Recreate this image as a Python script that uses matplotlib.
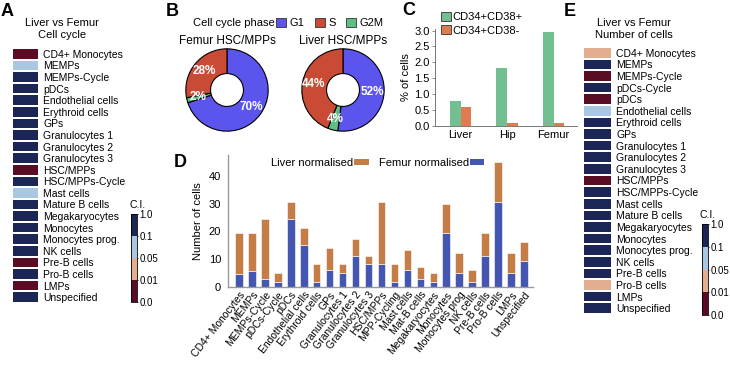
import numpy as np
import matplotlib
matplotlib.use('Agg')
import matplotlib.pyplot as plt
from matplotlib.colors import ListedColormap, BoundaryNorm
from matplotlib.cm import ScalarMappable
from matplotlib.patches import Patch

plt.rcParams['font.family'] = ['Liberation Sans', 'DejaVu Sans']

W, H = 730, 370

# --- panel A: cell cycle C.I. per cell type
cc_types = ['CD4+ Monocytes', 'MEMPs', 'MEMPs-Cycle', 'pDCs', 'Endothelial cells',
            'Erythroid cells', 'GPs', 'Granulocytes 1', 'Granulocytes 2', 'Granulocytes 3',
            'HSC/MPPs', 'HSC/MPPs-Cycle', 'Mast cells', 'Mature B cells', 'Megakaryocytes',
            'Monocytes', 'Monocytes prog.', 'NK cells', 'Pre-B cells', 'Pro-B cells',
            'LMPs', 'Unspecified']
cc_ci = [0.005, 0.07, 0.5, 0.5, 0.5, 0.5, 0.5, 0.5, 0.5, 0.5,
         0.005, 0.5, 0.07, 0.5, 0.5, 0.5, 0.5, 0.5, 0.005, 0.5,
         0.005, 0.5]

# --- panel B: cell cycle phase fractions (%)
phases = ['G1', 'S', 'G2M']
femur_phase = [70, 28, 2]
liver_phase = [52, 44, 4]

# --- panel C: % of cells
sites = ['Liver', 'Hip', 'Femur']
cd38_pos = [0.80, 1.83, 2.95]
cd38_neg = [0.60, 0.10, 0.10]

# --- panel D: number of cells
d_types = ['CD4+ Monocytes', 'MEMPs', 'MEMPs-Cycle', 'pDCs-Cycle', 'pDCs',
           'Endothelial cells', 'Erythroid cells', 'GPs', 'Granulocytes 1',
           'Granulocytes 2', 'Granulocytes 3', 'HSC/MPPs', 'MPP-Cycling', 'Mast cells',
           'Mat-B cells', 'Megakaryocytes', 'Monocytes', 'Monocytes prog', 'NK cells',
           'Pre-B cells', 'Pro-B cells', 'LMPs', 'Unspecified']
femur_norm = [4.8, 5.7, 3.0, 1.8, 24.5, 15.2, 1.8, 6.0, 5.0, 11.3, 8.2, 8.2, 1.8,
              6.0, 3.0, 1.8, 19.6, 5.0, 1.8, 11.3, 30.6, 5.0, 9.2]
total_cells = [19.5, 19.5, 24.4, 4.9, 30.6, 21.4, 8.1, 14.2, 8.1, 17.3, 11.2, 30.6, 8.1,
               13.2, 7.2, 4.9, 29.7, 12.2, 6.2, 19.5, 45.0, 12.1, 16.2]
liver_norm = [t - f for t, f in zip(total_cells, femur_norm)]

# --- panel E: number of cells C.I.
nc_types = ['CD4+ Monocytes', 'MEMPs', 'MEMPs-Cycle', 'pDCs-Cycle', 'pDCs',
            'Endothelial cells', 'Erythroid cells', 'GPs', 'Granulocytes 1',
            'Granulocytes 2', 'Granulocytes 3', 'HSC/MPPs', 'HSC/MPPs-Cycle', 'Mast cells',
            'Mature B cells', 'Megakaryocytes', 'Monocytes', 'Monocytes prog.', 'NK cells',
            'Pre-B cells', 'Pro-B cells', 'LMPs', 'Unspecified']
nc_ci = [0.03, 0.5, 0.005, 0.5, 0.005, 0.07, 0.5, 0.5, 0.5, 0.5, 0.5, 0.005, 0.5,
         0.5, 0.5, 0.5, 0.5, 0.5, 0.5, 0.5, 0.03, 0.5, 0.5]

ci_bounds = [0.0, 0.01, 0.05, 0.1, 1.0]
ci_cmap = ListedColormap(['#5a0d22', '#e3ad90', '#a9c6e3', '#1b2657'])
ci_norm = BoundaryNorm(ci_bounds, ci_cmap.N)

fig = plt.figure(figsize=(7.3, 3.7), dpi=100)


def px_axes(x0, y0, x1, y1):
    return fig.add_axes([x0 / W, 1 - y1 / H, (x1 - x0) / W, (y1 - y0) / H])


def ftext(x, y, s, **kw):
    fig.text(x / W, 1 - y / H, s, **kw)


def heatmap(ax, labels, vals):
    data = np.array(vals).reshape(-1, 1)
    ax.pcolormesh(data, cmap=ci_cmap, norm=ci_norm, edgecolors='white', linewidth=1.2)
    ax.set_ylim(len(vals), 0)
    ax.set_xlim(0, 1)
    ax.set_yticks(np.arange(len(vals)) + 0.5)
    ax.set_yticklabels(labels, fontsize=7.5)
    ax.yaxis.tick_right()
    ax.tick_params(length=0, pad=3)
    ax.set_xticks([])
    for s in ax.spines.values():
        s.set_visible(False)


def ci_bar(cax, x, y):
    cb = fig.colorbar(ScalarMappable(norm=ci_norm, cmap=ci_cmap), cax=cax,
                      spacing='uniform', ticks=ci_bounds)
    cb.ax.set_yticklabels(['0.0', '0.01', '0.05', '0.1', '1.0'], fontsize=7)
    cb.ax.tick_params(length=1, width=0.6, pad=0.8)
    cb.outline.set_linewidth(0.6)
    ftext(x, y, 'C.I.', fontsize=7.5, ha='left', va='center')


# panel letters
for lab, x, y in [('A', 1, 3), ('B', 166, 3), ('C', 402, 2), ('D', 174, 154), ('E', 564, 3)]:
    ftext(x, y, lab, fontsize=13, fontweight='bold', va='top', ha='left')

# A
axA = px_axes(12, 48, 39, 303)
heatmap(axA, cc_types, cc_ci)
ftext(62, 23, 'Liver vs Femur', fontsize=8, ha='center', va='center')
ftext(62, 35, 'Cell cycle', fontsize=8, ha='center', va='center')
ci_bar(px_axes(131, 214, 137, 302), 130, 205)

# E
axE = px_axes(583, 47, 612, 314)
heatmap(axE, nc_types, nc_ci)
ftext(634, 23, 'Liver vs Femur', fontsize=8, ha='center', va='center')
ftext(634, 35, 'Number of cells', fontsize=8, ha='center', va='center')
ci_bar(px_axes(702, 224, 708, 315), 700, 215)

# B
phase_cols = {'G1': '#5b55ee', 'S': '#c94a35', 'G2M': '#5cc085'}
pie_order = [0, 2, 1]  # clockwise from top: G1, G2M, S
for (cx, title, vals) in [(227, 'Femur HSC/MPPs', femur_phase),
                          (343, 'Liver HSC/MPPs', liver_phase)]:
    ax = px_axes(cx - 42, 48, cx + 42, 132)
    sizes = [vals[i] for i in pie_order]
    cols = [phase_cols[phases[i]] for i in pie_order]
    wedges, _ = ax.pie(sizes, colors=cols, startangle=90, counterclock=False,
                       wedgeprops=dict(width=0.6, edgecolor='black', linewidth=0.8))
    for w, v in zip(wedges, sizes):
        ang = np.deg2rad((w.theta1 + w.theta2) / 2)
        ax.text(0.72 * np.cos(ang), 0.72 * np.sin(ang), '%d%%' % v, color='white',
                fontsize=8.5, fontweight='bold', ha='center', va='center')
    ax.set_xlim(-1.02, 1.02)
    ax.set_ylim(-1.02, 1.02)
    ftext(cx, 41, title, fontsize=8.5, ha='center', va='center')

ftext(193, 23, 'Cell cycle phase', fontsize=8, ha='left', va='center')
fig.legend(handles=[Patch(facecolor=phase_cols[p], edgecolor='#333333', linewidth=0.6, label=p)
                    for p in phases],
           loc='center left', bbox_to_anchor=(276 / W, 1 - 23 / H), ncol=3, frameon=False,
           fontsize=8, handlelength=0.9, handleheight=0.9, handletextpad=0.35,
           columnspacing=0.9, borderpad=0, borderaxespad=0)

# C
axC = px_axes(435, 29, 577, 126)
xc = np.arange(len(sites))
bw = 0.23
axC.bar(xc - bw / 2, cd38_pos, bw, color='#72bf92', label='CD34+CD38+')
axC.bar(xc + bw / 2, cd38_neg, bw, color='#e07a50', label='CD34+CD38-')
axC.set_xlim(-0.55, 2.5)
axC.set_ylim(0, 3.05)
axC.set_yticks(np.arange(0, 3.01, 0.5))
axC.set_yticklabels(['%.1f' % v for v in np.arange(0, 3.01, 0.5)])
axC.set_xticks(xc)
axC.set_xticklabels(sites)
axC.tick_params(labelsize=8, length=2, width=0.6, color='#777777', pad=2)
axC.tick_params(axis='x', length=0, pad=3)
for s in ['top', 'right']:
    axC.spines[s].set_visible(False)
for s in ['left', 'bottom']:
    axC.spines[s].set_color('#777777')
    axC.spines[s].set_linewidth(0.7)
axC.set_ylabel('% of cells', fontsize=8, labelpad=2)
hC = [Patch(facecolor='#72bf92', edgecolor='#333333', linewidth=0.6, label='CD34+CD38+'),
      Patch(facecolor='#e07a50', edgecolor='#333333', linewidth=0.6, label='CD34+CD38-')]
fig.legend(handles=hC, loc='upper left', bbox_to_anchor=(441 / W, 1 - 12 / H), frameon=False,
           fontsize=8, handlelength=0.9, handleheight=0.9, handletextpad=0.15,
           labelspacing=0.25, borderpad=0, borderaxespad=0)

# D
axD = px_axes(228, 155, 533, 287)
xd = np.arange(len(d_types))
dbw = 0.58
blue_d = '#4556b1'
orange_d = '#c47d47'
axD.bar(xd, femur_norm, dbw, color=blue_d, edgecolor='white', linewidth=0.4)
axD.bar(xd, liver_norm, dbw, bottom=femur_norm, color=orange_d, edgecolor='white', linewidth=0.4)
axD.set_xlim(-0.85, 22.7)
axD.set_ylim(0, 47.5)
axD.set_yticks([0, 10, 20, 30, 40])
axD.set_xticks(xd)
axD.set_xticklabels(d_types, rotation=52, ha='right', rotation_mode='anchor', fontsize=7.5)
axD.tick_params(axis='y', labelsize=8, length=0, pad=5)
axD.tick_params(axis='x', length=0, pad=2)
for s in ['top', 'right']:
    axD.spines[s].set_visible(False)
for s in ['left', 'bottom']:
    axD.spines[s].set_color('#999999')
    axD.spines[s].set_linewidth(1.0)
axD.set_ylabel('Number of cells', fontsize=8, labelpad=4)
hD = [Patch(facecolor=orange_d, label='Liver normalised'),
      Patch(facecolor=blue_d, label='Femur normalised')]
fig.legend(handles=hD, loc='center left', bbox_to_anchor=(271 / W, 1 - 163 / H), ncol=2,
           frameon=False, fontsize=8, markerfirst=False, handlelength=1.3, handleheight=0.35,
           handletextpad=0.1, columnspacing=0.9, borderpad=0, borderaxespad=0)

fig.savefig('out.png', dpi=100)
